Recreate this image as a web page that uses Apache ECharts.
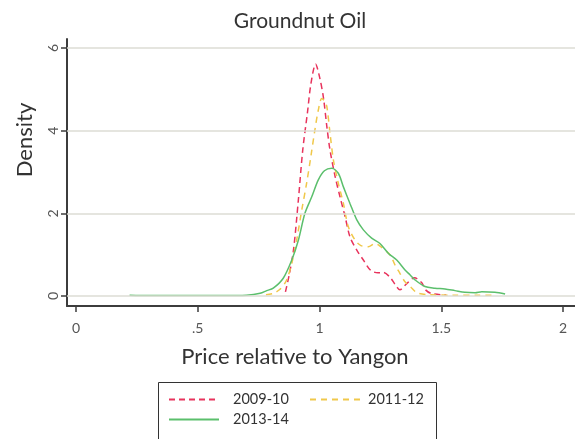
<!DOCTYPE html>
<html>
<head>
<meta charset="utf-8">
<script src="https://cdn.jsdelivr.net/npm/echarts@6/dist/echarts.min.js"></script>
<style>html,body{margin:0;padding:0;background:#fff}#c{width:575px;height:439px}</style>
</head>
<body>
<div id="c"></div>
<script>
// ---- data ----
var chartTitle = 'Groundnut Oil';
var xTitle = 'Price relative to Yangon';
var yTitle = 'Density';
var seriesNames = ['2009-10', '2011-12', '2013-14'];
var xTickValues = [0, 0.5, 1, 1.5, 2];
var xTickLabels = ['0', '.5', '1', '1.5', '2'];
var yTickValues = [0, 2, 4, 6];
var yTickLabels = ['0', '2', '4', '6'];

var redX = [0.86,0.875,0.893,0.913,0.931,0.95,0.965,0.984,1.0,1.016,1.03,1.043,1.064,1.084,1.105,1.125,1.153,1.18,1.21,1.24,1.262,1.29,1.31,1.33,1.358,1.39,1.42,1.435,1.46,1.52];
var redY = [0.1,0.5,1.11,2.32,3.53,4.42,5.15,5.61,5.3,4.8,4.1,3.53,2.89,2.4,1.92,1.43,1.11,0.87,0.62,0.56,0.57,0.45,0.28,0.15,0.3,0.44,0.32,0.15,0.06,0.02];

var yelX = [0.78,0.81,0.835,0.858,0.872,0.886,0.906,0.927,0.947,0.965,0.981,0.995,1.009,1.02,1.03,1.043,1.057,1.077,1.098,1.118,1.146,1.17,1.2,1.228,1.25,1.29,1.31,1.33,1.35,1.372,1.40,1.45,1.55,1.65,1.71];
var yelY = [0.03,0.06,0.15,0.31,0.5,0.79,1.35,2.08,2.73,3.4,4.02,4.5,4.78,4.72,4.58,3.94,3.29,2.73,2.24,1.68,1.35,1.22,1.19,1.27,1.2,0.99,0.75,0.55,0.35,0.23,0.08,0.03,0.02,0.02,0.02];

var grnX = [0.22,0.3,0.4,0.5,0.6,0.7,0.756,0.783,0.81,0.851,0.886,0.913,0.94,0.968,0.995,1.02,1.05,1.077,1.098,1.125,1.153,1.18,1.214,1.248,1.283,1.317,1.351,1.372,1.392,1.433,1.474,1.515,1.556,1.597,1.639,1.666,1.72,1.762];
var grnY = [0.02,0.01,0.01,0.01,0.01,0.02,0.065,0.13,0.19,0.43,0.87,1.35,2.0,2.4,2.81,3.03,3.09,2.97,2.64,2.24,1.84,1.6,1.4,1.27,1.03,0.87,0.63,0.51,0.39,0.23,0.19,0.17,0.13,0.09,0.08,0.105,0.09,0.05];

// ---- build ----
function zip(xs, ys) { return xs.map(function (x, i) { return [x, ys[i]]; }); }
var FONT = 'Lato';
var colors = ['#E8335C', '#F0C84A', '#5BBF6C'];
var chart = echarts.init(document.getElementById('c'), null, { renderer: 'canvas' });

function legendAt(name, left, top, gap) {
  return {
    data: [name], left: left, top: top, orient: 'horizontal',
    itemWidth: 50, itemHeight: 14, padding: 0, selectedMode: false,
    itemStyle: { opacity: 0, borderWidth: 0 },
    textStyle: { fontFamily: FONT, fontSize: 14.5, color: '#333', padding: [0, 0, 0, gap] }
  };
}

var option = {
  backgroundColor: '#fff',
  animation: false,
  title: {
    text: chartTitle, left: 295, top: 6, textAlign: 'center',
    textStyle: { fontFamily: FONT, fontSize: 21, fontWeight: 'normal', color: '#333' }
  },
  grid: { left: 67, right: 0, top: 39, bottom: 133, containLabel: false, outerBoundsMode: 'none' },
  xAxis: {
    type: 'value', min: -0.037, max: 2.049,
    axisLine: { show: true, onZero: false, lineStyle: { color: '#3c3c3c', width: 2 } },
    axisTick: { show: true, length: 6, customValues: xTickValues, lineStyle: { color: '#3c3c3c', width: 1.5 } },
    axisLabel: {
      customValues: xTickValues, margin: 15, fontFamily: FONT, fontSize: 14, color: '#555',
      formatter: function (v) { var i = xTickValues.indexOf(v); return i >= 0 ? xTickLabels[i] : ''; }
    },
    splitLine: { show: false }
  },
  yAxis: {
    type: 'value', min: -0.242, max: 6.218,
    axisLine: { show: true, onZero: false, lineStyle: { color: '#3c3c3c', width: 2 } },
    axisTick: { show: true, length: 6, customValues: yTickValues, lineStyle: { color: '#3c3c3c', width: 1.5 } },
    axisLabel: {
      customValues: yTickValues, margin: 7, rotate: 90, fontFamily: FONT, fontSize: 14, color: '#555',
      formatter: function (v) { var i = yTickValues.indexOf(v); return i >= 0 ? yTickLabels[i] : ''; }
    },
    splitLine: { show: false }
  },
  legend: [
    legendAt(seriesNames[0], 168, 392, 9),
    legendAt(seriesNames[1], 309, 392, 3),
    legendAt(seriesNames[2], 168, 412, 9)
  ],
  graphic: [
    { type: 'rect', left: 156, top: 380, shape: { width: 278, height: 58 },
      style: { fill: 'none', stroke: '#333', lineWidth: 1 }, z: 0 },
    { type: 'text', x: 295, y: 357, style: { text: xTitle, font: '22px ' + FONT, fill: '#333', align: 'center', verticalAlign: 'middle' } },
    { type: 'text', x: 25, y: 140, rotation: Math.PI / 2, style: { text: yTitle, font: '22px ' + FONT, fill: '#333', align: 'center', verticalAlign: 'middle' } }
  ],
  series: [
    {
      name: '_grid', type: 'line', data: [], z: 1, silent: true,
      markLine: {
        silent: true, symbol: 'none', animation: false, label: { show: false },
        lineStyle: { color: '#DCDCD5', width: 1.5, type: 'solid' },
        data: yTickValues.map(function (v) { return { yAxis: v }; })
      }
    },
    {
      name: seriesNames[0], type: 'line', data: zip(redX, redY), showSymbol: false, symbol: 'none',
      smooth: 0.3, z: 3, color: colors[0],
      lineStyle: { color: colors[0], width: 1.5, type: [6, 4] }
    },
    {
      name: seriesNames[1], type: 'line', data: zip(yelX, yelY), showSymbol: false, symbol: 'none',
      smooth: 0.3, z: 3, color: colors[1],
      lineStyle: { color: colors[1], width: 1.5, type: [6, 5] }
    },
    {
      name: seriesNames[2], type: 'line', data: zip(grnX, grnY), showSymbol: false, symbol: 'none',
      smooth: 0.3, z: 3, color: colors[2],
      lineStyle: { color: colors[2], width: 1.5, type: 'solid' }
    }
  ]
};
chart.setOption(option);
</script>
</body>
</html>
